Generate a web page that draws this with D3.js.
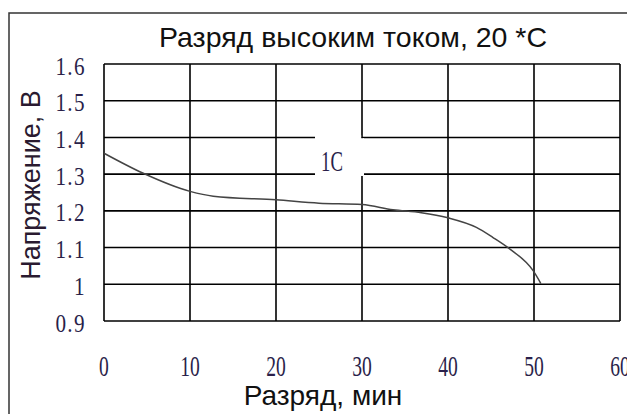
<!DOCTYPE html>
<html>
<head>
<meta charset="utf-8">
<script src="https://cdn.jsdelivr.net/npm/d3@7"></script>
<style>
  body { margin: 0; background: #fff; }
  svg { display: block; }
</style>
</head>
<body>
<div id="chart"></div>
<script>
// discharge curve, 1C
var minutes = [0, 4.5, 10, 12.7, 20, 25, 30, 33.6, 36.9, 40, 43.3, 45.2, 47.2, 49.9, 50.8];
var voltage = [1.357, 1.303, 1.253, 1.240, 1.230, 1.221, 1.217, 1.203, 1.195, 1.181, 1.155, 1.128, 1.096, 1.037, 1.002];

var xTicks = [0, 10, 20, 30, 40, 50, 60];
var yTicks = [0.9, 1.0, 1.1, 1.2, 1.3, 1.4, 1.5, 1.6];
var yTickLabels = ["0.9", "1", "1.1", "1.2", "1.3", "1.4", "1.5", "1.6"];

var titleText = "Разряд высоким током, 20 *С";
var xTitle = "Разряд, мин";
var yTitle = "Напряжение, В";
var curveLabel = "1C";

var width = 627, height = 414;

var svg = d3.select("#chart").append("svg")
    .attr("width", width)
    .attr("height", height);

// outer frame
svg.append("rect")
    .attr("x", 9).attr("y", 13)
    .attr("width", 640).attr("height", 420)
    .attr("fill", "none")
    .attr("stroke", "#333")
    .attr("stroke-width", 1.5);

var x = d3.scaleLinear().domain([0, 60]).range([104, 620]);
var y = d3.scaleLinear().domain([0.9, 1.6]).range([321, 64]);

var g = svg.append("g");

// grid
g.selectAll(".hgrid")
    .data(yTicks)
    .enter().append("line")
    .attr("x1", x(0)).attr("x2", x(60))
    .attr("y1", function(d) { return y(d); })
    .attr("y2", function(d) { return y(d); })
    .attr("stroke", "#000")
    .attr("stroke-width", 1.6);

g.selectAll(".vgrid")
    .data(xTicks)
    .enter().append("line")
    .attr("y1", y(0.9)).attr("y2", y(1.6))
    .attr("x1", function(d) { return x(d); })
    .attr("x2", function(d) { return x(d); })
    .attr("stroke", "#000")
    .attr("stroke-width", 1.6);

// white box behind the curve label, cuts the grid
var boxBottom = 176;
g.append("rect")
    .attr("x", 315).attr("y", y(1.4) - 2)
    .attr("width", x(30) - 315 - 0.8)
    .attr("height", boxBottom - y(1.4) + 2)
    .attr("fill", "#fff");
g.append("rect")
    .attr("x", x(30) - 1).attr("y", y(1.4) + 0.8)
    .attr("width", 3)
    .attr("height", boxBottom - y(1.4) - 0.8)
    .attr("fill", "#fff");

g.append("text")
    .attr("transform", "translate(332,171) scale(0.85,1.35)")
    .attr("text-anchor", "middle")
    .attr("font-family", "Liberation Serif")
    .attr("font-size", 22)
    .attr("fill", "#2a1f4a")
    .text(curveLabel);

// curve
var line = d3.line()
    .x(function(d) { return x(d[0]); })
    .y(function(d) { return y(d[1]); })
    .curve(d3.curveMonotoneX);

g.append("path")
    .datum(d3.zip(minutes, voltage))
    .attr("d", line)
    .attr("fill", "none")
    .attr("stroke", "#444")
    .attr("stroke-width", 1.5);

// tick labels
svg.selectAll(".ylab")
    .data(yTicks)
    .enter().append("text")
    .attr("transform", function(d) { return "translate(86," + (y(d) + 10.5) + ") scale(0.92,1.1)"; })
    .attr("text-anchor", "end")
    .attr("font-family", "Liberation Serif")
    .attr("font-size", 23)
    .attr("letter-spacing", 1.5)
    .attr("fill", "#2a1f4a")
    .text(function(d, i) { return yTickLabels[i]; });

svg.selectAll(".xlab")
    .data(xTicks)
    .enter().append("text")
    .attr("transform", function(d) { return "translate(" + x(d) + ",376) scale(0.85,1.3)"; })
    .attr("text-anchor", "middle")
    .attr("font-family", "Liberation Serif")
    .attr("font-size", 23)
    .attr("fill", "#2a1f4a")
    .text(function(d) { return d; });

// titles
svg.append("text")
    .attr("x", 353).attr("y", 47)
    .attr("text-anchor", "middle")
    .attr("font-family", "Liberation Sans")
    .attr("font-size", 28.5)
    .attr("fill", "#111")
    .text(titleText);

svg.append("text")
    .attr("x", 323).attr("y", 405)
    .attr("text-anchor", "middle")
    .attr("font-family", "Liberation Sans")
    .attr("font-size", 28)
    .attr("fill", "#111")
    .text(xTitle);

svg.append("text")
    .attr("transform", "translate(40,185) rotate(-90)")
    .attr("text-anchor", "middle")
    .attr("font-family", "Liberation Sans")
    .attr("font-size", 27)
    .attr("fill", "#2a1a30")
    .text(yTitle);
</script>
</body>
</html>
